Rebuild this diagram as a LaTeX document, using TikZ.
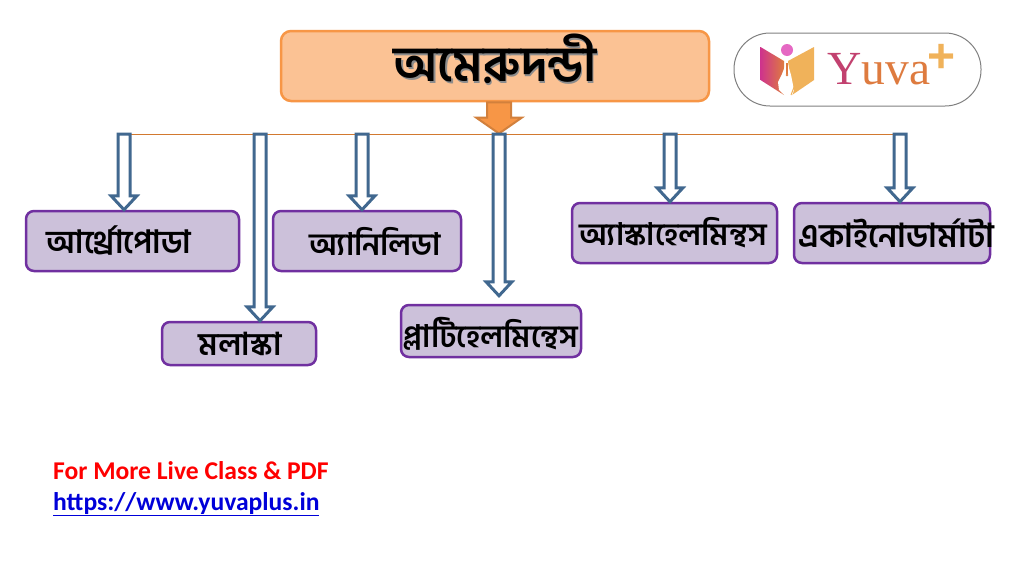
\documentclass[tikz,border=0pt]{standalone}
\usepackage{fontspec}
\usetikzlibrary{calc}
\setmainfont{Carlito}
\newfontfamily\bn[Script=Bengali]{Hind Siliguri}
\newfontfamily\bnm[Script=Bengali]{Hind Siliguri SemiBold}
\newfontfamily\lserif{Liberation Serif}
\newfontfamily\lsans{Liberation Sans}
\definecolor{headfill}{HTML}{FBC294}
\definecolor{headline}{HTML}{F79646}
\definecolor{boxfill}{HTML}{CCC1DA}
\definecolor{boxline}{HTML}{7030A0}
\definecolor{arrowline}{HTML}{41688F}
\definecolor{busline}{HTML}{D2792F}
\definecolor{logoY}{HTML}{C2416F}
\definecolor{logoO}{HTML}{DE7B3F}
\definecolor{logoG}{HTML}{F0B25A}
\newcommand{\bsize}[1]{\bnm\fontsize{#1}{#1}\selectfont}
\tikzset{
  headbox/.style={draw=headline,fill=headfill,line width=2.5pt,rounded corners=10pt,minimum width=428pt,minimum height=70pt,inner sep=0pt},
  taxon/.style={draw=boxline,fill=boxfill,line width=2.5pt,rounded corners=8pt,inner sep=0pt,text=black},
  hollow/.style={draw=arrowline,fill=white,line width=3pt,line join=miter,
    to path={($(\tikztostart)+(-6,0)$) -- ($(\tikztotarget)+(-6,-14)$) -- ($(\tikztotarget)+(-13,-14)$) -- (\tikztotarget) -- ($(\tikztotarget)+(13,-14)$) -- ($(\tikztotarget)+(6,-14)$) -- ($(\tikztostart)+(6,0)$) -- cycle}},
  solidarrow/.style={draw=headline!85!black,fill=headline,line width=2pt,
    to path={($(\tikztostart)+(-12,0)$) -- ($(\tikztotarget)+(-12,-16)$) -- ($(\tikztotarget)+(-23,-16)$) -- (\tikztotarget) -- ($(\tikztotarget)+(23,-16)$) -- ($(\tikztotarget)+(12,-16)$) -- ($(\tikztostart)+(12,0)$) -- cycle}},
  foot/.style={anchor=base west,inner sep=0pt,font=\bfseries\fontsize{25.6}{28}\selectfont}
}
\newcommand{\titletext}{অমেরুদন্ডী}
\begin{document}
\begin{tikzpicture}[x=1pt,y=-1pt]
\useasboundingbox (0,0) rectangle (1024,576);
\fill[white] (0,0) rectangle (1024,576);
% bus
\coordinate (bl) at (124,134.5);
\coordinate (br) at (900,134.5);
\coordinate (bm) at (499,133.5);
\draw[busline,line width=1pt] (bl) -- (br);
% head
\node[headbox] (head) at (495,66) {};
\node[inner sep=0pt,font=\bn\bfseries\fontsize{49}{52}\selectfont] (title) at (495,60) {\rlap{\color{black!45}\kern1.5pt\raisebox{-1.5pt}{\titletext}}\titletext};
\draw[solidarrow] (head.south -| bm) to (bm);
% boxes
\node[taxon,font=\bsize{32},minimum width=213pt,minimum height=60pt] (a) at (132.5,241) {\kern-27pt আর্থ্রোপোডা};
\node[taxon,font=\bsize{31},minimum width=188pt,minimum height=60pt] (b) at (367,241) {\kern16pt অ্যানিলিডা};
\node[taxon,font=\bsize{31.5},minimum width=154pt,minimum height=43pt] (c) at (239,343.5) {\kern2pt মলাস্কা};
\node[taxon,font=\bsize{31},minimum width=180pt,minimum height=52pt] (d) at (491,331) {\makebox[0pt]{\raisebox{-16pt}[0pt][0pt]{প্লাটিহেলমিন্থেস}}};
\node[taxon,font=\bsize{31},minimum width=205pt,minimum height=60pt] (e) at (674.5,233) {\kern-3pt অ্যাস্কাহেলমিন্থস};
\node[taxon,font=\bsize{33},minimum width=196pt,minimum height=60pt] (f) at (892,233) {\makebox[0pt]{\kern9pt একাইনোডার্মাটা}};
% connectors
\coordinate (b1) at (124,134);
\coordinate (b2) at (260,134);
\coordinate (b3) at (362,134);
\coordinate (b4) at (499,134);
\coordinate (b5) at (670,134);
\coordinate (b6) at (900,134);
\draw[hollow] (b1) to (a.north -| b1);
\draw[hollow] (b2) to (c.north -| b2);
\draw[hollow] (b3) to (b.north -| b3);
\draw[hollow] ($(d.north -| b4)+(0,-8)$) coordinate (t4) (b4) to (t4);
\draw[hollow] (b5) to (e.north -| b5);
\draw[hollow] (b6) to (f.north -| b6);
% logo
\draw[draw=black!50,fill=white,line width=1pt,rounded corners=36pt] (734,33) rectangle (981,106);
\shade[left color=logoY!80!magenta,right color=logoO] (760.5,47) -- (784,61) -- (784,95) -- (760.5,80) -- cycle;
\fill[logoG] (814,47) -- (788,61) -- (792,95) -- (814,80) -- cycle;
\fill[white] (787,61) -- (791,75) -- (794,90) -- (792,96) -- (784,95) -- (779,90) -- (778,82) -- (782,74) -- cycle;
\fill[logoO] (786.3,63) rectangle (787.7,74);
\fill[logoO] (787,75) circle (1.4pt);
\draw[logoG,line width=1pt] (790,68) -- (796,82) -- (791,95);
\fill[logoY!60!magenta!70!white] (787,50) circle (6pt);
\node[anchor=base west,inner sep=0pt,font=\lserif\fontsize{47.5}{54}\selectfont] (yuva) at (827,84) {\textcolor{logoY}{Y}\textcolor{logoO}{uva}};
\node[anchor=center,inner sep=0pt,text=logoG,font=\lsans\bfseries\fontsize{48}{50}\selectfont] (plus) at (941,58) {+};
% footer
\node[foot,text=red] (more) at (53,479) {For More Live Class \& PDF};
\node[foot,text=blue!85!black] (link) at (53,510) {\underline{https://www.yuvaplus.in}};
\end{tikzpicture}
\end{document}
